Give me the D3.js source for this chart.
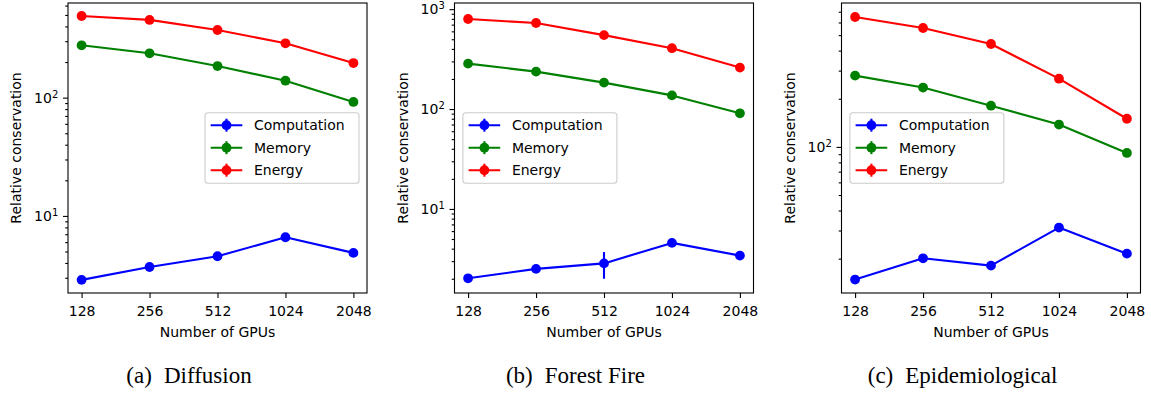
<!DOCTYPE html>
<html>
<head>
<meta charset="utf-8">
<script src="https://cdn.jsdelivr.net/npm/d3@7"></script>
<style>
  body { margin: 0; background: #fff; }
  svg { display: block; }
  text { font-family: "DejaVu Sans", sans-serif; fill: #000; }
  text.caption { font-family: "Liberation Serif", "Times New Roman", serif; }
  .tick text { font-size: 14px; }
  .tick line { stroke: #000; stroke-width: 1.1; }
</style>
</head>
<body>
<svg id="chart" width="1151" height="394"></svg>
<script>
// values
const gpus = [128, 256, 512, 1024, 2048];
const seriesNames = ["Computation", "Memory", "Energy"];
const seriesColors = ["#0000ff", "#008000", "#ff0000"];

const diffusionComputation = [2.88, 3.70, 4.56, 6.6, 4.87];
const diffusionMemory = [277, 237, 185, 139, 92];
const diffusionEnergy = [490, 454, 373, 288, 196];

const forestComputation = [2.02, 2.51, 2.85, 4.57, 3.41];
const forestComputationErr = [0, 0, 0.85, 0, 0];
const forestMemory = [285, 237, 184, 137, 90.6];
const forestEnergy = [797, 727, 550, 407, 260];

const epiComputation = [14.8, 20.1, 18.1, 31.3, 21.5];
const epiMemory = [279, 235, 181, 138, 91.7];
const epiEnergy = [649, 554, 440, 267, 150];

const noErr = [0, 0, 0, 0, 0];
const captions = ["(a)", "(b)", "(c)"];
const captionNames = ["Diffusion", "Forest Fire", "Epidemiological"];
const yLimits = [[2.23, 631], [1.44, 1153], [12.2, 794]];

const panels = [
    { series: [diffusionComputation, diffusionMemory, diffusionEnergy], errs: [noErr, noErr, noErr], legend: "right" },
    { series: [forestComputation, forestMemory, forestEnergy], errs: [forestComputationErr, noErr, noErr], legend: "left" },
    { series: [epiComputation, epiMemory, epiEnergy], errs: [noErr, noErr, noErr], legend: "left" }
];

const svg = d3.select("#chart");
const axLefts = [68, 454.5, 841.5];
const axTop = 3;
const innerWidth = 299;
const innerHeight = 290;

panels.forEach((p, pi) => {
    const g = svg.append("g")
        .attr("transform", `translate(${axLefts[pi]},${axTop})`);

    // log2 x so the GPU counts are evenly spaced, with 5% margins
    const xScale = d3.scaleLog().base(2)
        .domain([gpus[0] / Math.pow(2, 0.2), gpus[gpus.length - 1] * Math.pow(2, 0.2)])
        .range([0, innerWidth]);

    const yScale = d3.scaleLog()
        .domain(yLimits[pi])
        .range([innerHeight, 0]);

    // x axis
    const xAxis = d3.axisBottom(xScale)
        .tickValues(gpus)
        .tickFormat(d3.format("d"))
        .tickSize(5)
        .tickPadding(8.5);
    g.append("g")
        .attr("transform", `translate(0,${innerHeight})`)
        .call(xAxis)
        .attr("font-family", null)
        .attr("font-size", null)
        .call(a => a.select(".domain").remove());

    // y axis: major ticks at powers of ten, minor ticks in between
    const [lo, hi] = yLimits[pi];
    const majors = [];
    const minors = [];
    for (let e = Math.floor(Math.log10(lo)); e <= Math.ceil(Math.log10(hi)); e++) {
        const base = Math.pow(10, e);
        if (base >= lo && base <= hi) majors.push(base);
        for (let k = 2; k <= 9; k++) {
            const v = k * base;
            if (v >= lo && v <= hi) minors.push(v);
        }
    }

    g.append("g")
        .call(d3.axisLeft(yScale).tickValues(minors).tickSize(2.8).tickFormat(""))
        .call(a => a.select(".domain").remove())
        .call(a => a.selectAll(".tick text").remove());

    const yMajor = g.append("g")
        .call(d3.axisLeft(yScale).tickValues(majors).tickSize(5).tickPadding(4.7).tickFormat(""))
        .attr("font-family", null)
        .attr("font-size", null)
        .call(a => a.select(".domain").remove());

    yMajor.selectAll(".tick text").each(function (d) {
        const t = d3.select(this);
        t.append("tspan").text("10");
        t.append("tspan")
            .attr("dy", "-0.48em")
            .style("font-size", "10px")
            .text(Math.round(Math.log10(d)));
    });

    // axes frame
    g.append("rect")
        .attr("width", innerWidth)
        .attr("height", innerHeight)
        .attr("fill", "none")
        .attr("stroke", "#000")
        .attr("stroke-width", 1.1);

    // series: error bars, lines, markers
    const line = d3.line()
        .x((d, i) => xScale(gpus[i]))
        .y(d => yScale(d));

    p.series.forEach((vals, si) => {
        const col = seriesColors[si];
        const err = p.errs[si];

        g.append("g")
            .selectAll("line")
            .data(vals.map((v, i) => ({ v, e: err[i], x: gpus[i] })).filter(d => d.e > 0))
            .join("line")
            .attr("x1", d => xScale(d.x))
            .attr("x2", d => xScale(d.x))
            .attr("y1", d => yScale(d.v - d.e))
            .attr("y2", d => yScale(d.v + d.e))
            .attr("stroke", col)
            .attr("stroke-width", 2.1);

        g.append("path")
            .attr("d", line(vals))
            .attr("fill", "none")
            .attr("stroke", col)
            .attr("stroke-width", 2.1)
            .attr("stroke-linejoin", "round");

        g.append("g")
            .selectAll("circle")
            .data(vals)
            .join("circle")
            .attr("cx", (d, i) => xScale(gpus[i]))
            .attr("cy", d => yScale(d))
            .attr("r", 4.9)
            .attr("fill", col);
    });

    // legend
    const legW = 154;
    const legH = 70.6;
    const legX = p.legend === "right" ? innerWidth - 8 - legW : 8.4;
    const legY = innerHeight / 2 - legH / 2;
    const leg = g.append("g").attr("transform", `translate(${legX},${legY})`);

    leg.append("rect")
        .attr("width", legW)
        .attr("height", legH)
        .attr("rx", 3)
        .attr("fill", "#fff")
        .attr("fill-opacity", 0.8)
        .attr("stroke", "#cccccc")
        .attr("stroke-width", 1.1);

    seriesNames.forEach((name, i) => {
        const ry = 12.5 + i * 22.5;
        const col = seriesColors[i];
        leg.append("line")
            .attr("x1", 5.7).attr("x2", 37.3)
            .attr("y1", ry).attr("y2", ry)
            .attr("stroke", col)
            .attr("stroke-width", 2.1);
        leg.append("line")
            .attr("x1", 21.5).attr("x2", 21.5)
            .attr("y1", ry - 6.5).attr("y2", ry + 6.5)
            .attr("stroke", col)
            .attr("stroke-width", 2.1);
        leg.append("circle")
            .attr("cx", 21.5).attr("cy", ry)
            .attr("r", 4.9)
            .attr("fill", col);
        leg.append("text")
            .attr("x", 49)
            .attr("y", ry)
            .attr("dy", "0.35em")
            .style("font-size", "14px")
            .text(name);
    });

    // axis labels
    g.append("text")
        .attr("x", innerWidth / 2)
        .attr("y", innerHeight + 43.7)
        .attr("text-anchor", "middle")
        .style("font-size", "14px")
        .text("Number of GPUs");

    g.append("text")
        .attr("transform", `translate(-47,${innerHeight / 2}) rotate(-90)`)
        .attr("text-anchor", "middle")
        .style("font-size", "14px")
        .text("Relative conservation");

    // subfigure caption
    const cap = svg.append("text")
        .attr("class", "caption")
        .attr("x", axLefts[pi] + 121)
        .attr("y", 383)
        .attr("text-anchor", "middle")
        .style("font-size", "23px");
    cap.append("tspan").text(captions[pi]);
    cap.append("tspan").attr("dx", 12).text(captionNames[pi]);
});
</script>
</body>
</html>
